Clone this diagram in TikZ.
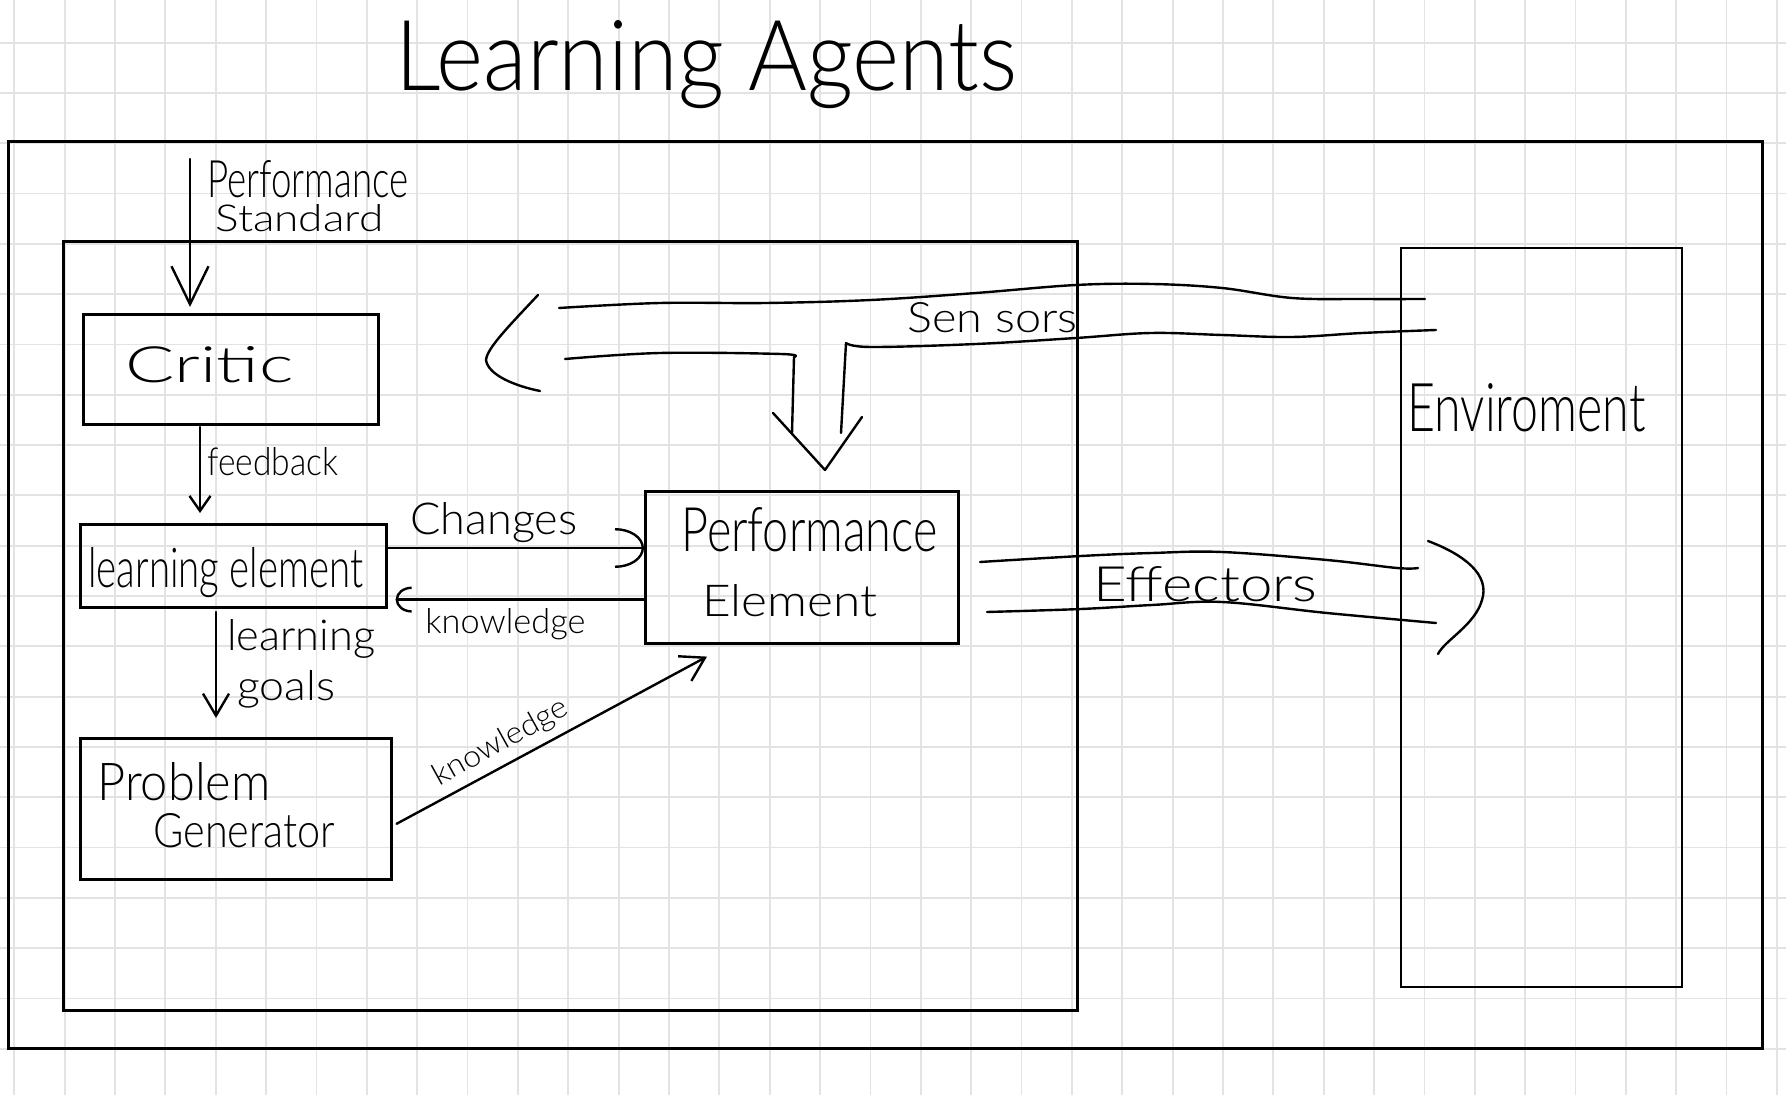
\documentclass[tikz,border=0pt]{standalone}
\usepackage{fontspec}
\usepackage{graphicx}
\IfFontExistsTF{Lato Light}{\newfontfamily\hand{Lato Light}}{\newfontfamily\hand{Lato}}
\usetikzlibrary{arrows.meta,calc}
% width, height above baseline, text
\newcommand\fitwh[3]{\resizebox{#1}{#2}{\hand #3}}
\begin{document}
\begin{tikzpicture}[x=0.5pt,y=-0.5pt,
  gridline/.style={line width=0.9pt, black!11},
  box/.style={draw, line width=1.3pt, inner sep=0pt, anchor=north west},
  hw/.style={inner sep=0pt, anchor=base west},
  conn/.style={line width=1.2pt, line cap=round, line join=round},
  stroke/.style={line width=1.2pt, line cap=round, line join=round},
]
\useasboundingbox (0,0) rectangle (1786,1095);
\fill[white] (0,0) rectangle (1786,1095);
\foreach \k in {0,...,35} \draw[gridline] ({14.3+50.36*\k},0) -- ({14.3+50.36*\k},1095);
\foreach \k in {0,...,20} \draw[gridline] (0,{42.7+50.3*\k}) -- (1786,{42.7+50.3*\k});

% boxes
\node[box, minimum width=877pt, minimum height=453.5pt, line width=1.5pt] (outer) at (7,140) {};
\node[box, minimum width=507pt, minimum height=384.5pt] (agent) at (62,240) {};
\node[box, minimum width=140.5pt, minimum height=369.5pt, line width=1.2pt] (env) at (1400,247) {};
\node[box, minimum width=147.5pt, minimum height=55pt] (critic) at (82,313) {};
\node[box, minimum width=153pt, minimum height=41.5pt] (learn) at (79,523) {};
\node[box, minimum width=155.5pt, minimum height=70.5pt] (probgen) at (79,737) {};
\node[box, minimum width=156.5pt, minimum height=76pt] (perf) at (644,490) {};

% texts
\node[hw] (title) at (395,91) {\fitwh{311pt}{35pt}{Learning Agents}};
\node[hw] (ps1) at (207,198) {\fitwh{100.5pt}{18.5pt}{Performance}};
\node[hw] (ps2) at (215,232) {\fitwh{84pt}{13.5pt}{Standard}};
\node[hw] (critict) at (125,383) {\fitwh{84pt}{18pt}{Critic}};
\node[hw] (fbt) at (207,476) {\fitwh{65.5pt}{14pt}{feedback}};
\node[hw] (learnt) at (88,587) {\fitwh{137.5pt}{20pt}{learning element}};
\node[hw] (lg1) at (227,650) {\fitwh{74pt}{15.5pt}{learning}};
\node[hw] (lg2) at (237,700) {\fitwh{49pt}{15pt}{goals}};
\node[hw] (pg1) at (97,800) {\fitwh{86.5pt}{19pt}{Problem}};
\node[hw] (pg2) at (153,847) {\fitwh{91pt}{17pt}{Generator}};
\node[hw] (cht) at (410,535) {\fitwh{83.5pt}{16pt}{Changes}};
\node[hw] (kn1) at (425,633) {\fitwh{80pt}{12.5pt}{knowledge}};
\node[inner sep=0pt, anchor=base, rotate=29] (kn2) at (505,750) {\fitwh{75pt}{11pt}{knowledge}};
\node[hw] (pe1) at (681,552) {\fitwh{128pt}{22pt}{Performance}};
\node[hw] (pe2) at (702,617) {\fitwh{87.5pt}{16pt}{Element}};
\node[hw] (sent) at (907,333) {\fitwh{85pt}{15pt}{Sen sors}};
\node[hw] (eft) at (1093,602) {\fitwh{112pt}{17.5pt}{Effectors}};
\node[hw] (envt) at (1407,432) {\fitwh{119pt}{24pt}{Enviroment}};

% connectors
\coordinate (psstart) at (190,159);
\draw[conn, -{Straight Barb[length=19pt,width=18.5pt]}, shorten >=3pt] (psstart) -- (psstart |- critic.north);
\coordinate (fb) at (200,427);
\draw[conn, -{Straight Barb[length=7.5pt,width=10.5pt]}, shorten >=5pt] (fb) -- (fb |- learn.north);
\coordinate (lg) at (216,612);
\draw[conn, -{Straight Barb[length=11pt,width=13pt]}, shorten >=9.5pt] (lg) -- (lg |- probgen.north);
\draw[conn, -{Arc Barb[length=14.5pt,width=20pt]}] ([yshift=-12.5pt]learn.north east) -- ([yshift=-12.5pt]learn.north east -| perf.west);
\draw[conn, -{Arc Barb[length=8pt,width=13pt]}] ([yshift=4.5pt]learn.south east -| perf.west) -- ([yshift=4.5pt,xshift=4pt]learn.south east);
\draw[conn, -{Straight Barb[length=11.5pt,width=14pt]}] ([yshift=-7.5pt,xshift=2pt]probgen.east) -- ([xshift=31.5pt,yshift=-6pt]perf.south west);

% sensors
\draw[stroke] plot[smooth, tension=0.6] coordinates {(559,308) (660,303) (766,303) (871,300) (976,293) (1076,285) (1152,284) (1222,288) (1292,298) (1362,299) (1425,299)};
\draw[stroke] plot[smooth, tension=0.6] coordinates {(565,359) (660,353) (781,354) (794,357)};
\draw[stroke] (794,357) -- (792,433);
\draw[stroke] (841,433) -- (846,343);
\draw[stroke] plot[smooth, tension=0.6] coordinates {(846,343) (871,347) (976,344) (1076,338) (1151,333) (1222,335) (1292,337) (1362,333) (1436,330)};
\draw[stroke] (773,413) -- (825,470) -- (862,417);
\draw[stroke] (538,295) .. controls (510,325) and (487,348) .. (486,360) .. controls (488,375) and (515,386) .. (540,391);

% effectors
\draw[stroke] plot[smooth, tension=0.6] coordinates {(980,562) (1081,556) (1152,553) (1222,552) (1327,560) (1397,568) (1418,568)};
\draw[stroke] plot[smooth, tension=0.6] coordinates {(987,612) (1081,609) (1152,605) (1222,602) (1327,613) (1436,623)};
\draw[stroke] (1428,541) .. controls (1465,555) and (1490,575) .. (1482,600) .. controls (1475,625) and (1445,640) .. (1438,654);
\end{tikzpicture}
\end{document}
